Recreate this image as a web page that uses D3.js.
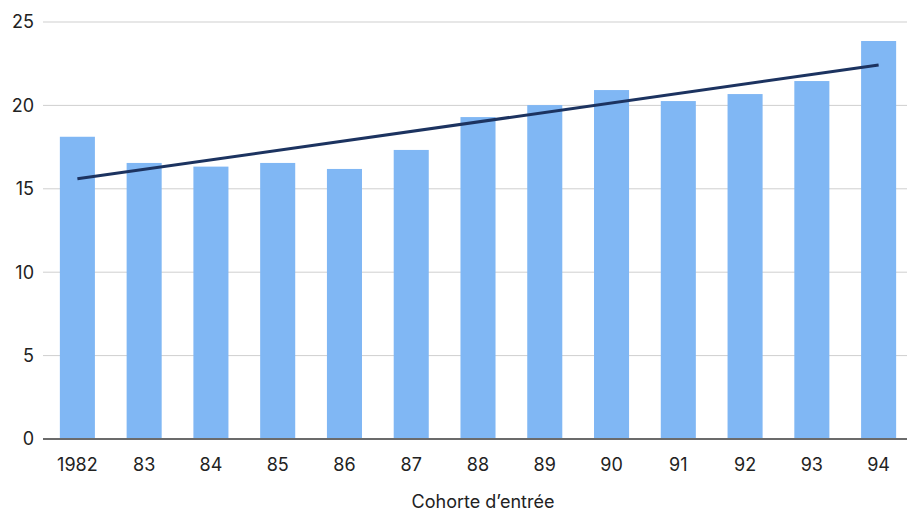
<!DOCTYPE html>
<html><head><meta charset="utf-8">
<script src="https://cdn.jsdelivr.net/npm/d3@7"></script>
<style>body{margin:0;background:#fff}svg{display:block}text{font-family:Inter,"Liberation Sans",Arial,sans-serif;fill:#222}</style>
</head><body><svg id="c" width="907" height="511"></svg>
<script>
const categories = ["1982","83","84","85","86","87","88","89","90","91","92","93","94"];
const values = [18.12,16.55,16.33,16.55,16.19,17.33,19.3,20.02,20.92,20.26,20.68,21.46,23.86];
const trend = [15.6,22.42];
const yTicks = [0,5,10,15,20,25];
const xTitle = "Cohorte d’entrée";

const svg = d3.select("#c");
const x = d3.scaleBand().domain(categories).range([44,912]).paddingInner(0.475).paddingOuter(0.2375);
const y = d3.scaleLinear().domain([0,25]).range([439,22]);

svg.append("g").selectAll("line").data(yTicks.filter(d=>d>0)).join("line")
  .attr("x1",43).attr("x2",907).attr("y1",d=>y(d)).attr("y2",d=>y(d))
  .attr("stroke","#cfcfcf").attr("stroke-width",1);

svg.append("g").selectAll("rect").data(values).join("rect")
  .attr("x",(d,i)=>x(categories[i])).attr("width",x.bandwidth())
  .attr("y",d=>y(d)).attr("height",d=>y(0)-y(d)).attr("fill","#80b7f4");

svg.append("line").attr("x1",43).attr("x2",907).attr("y1",y(0)).attr("y2",y(0))
  .attr("stroke","#6b6b6b").attr("stroke-width",2);

const cx = c => x(c)+x.bandwidth()/2;
svg.append("line")
  .attr("x1",cx(categories[0])).attr("y1",y(trend[0]))
  .attr("x2",cx(categories[categories.length-1])).attr("y2",y(trend[1]))
  .attr("stroke","#1c3360").attr("stroke-width",3).attr("stroke-linecap","butt");

svg.append("g").selectAll("text").data(yTicks).join("text")
  .attr("x",34).attr("y",d=>y(d)).attr("dy","0.36em").attr("text-anchor","end")
  .attr("font-size",18).text(d=>d);

svg.append("g").selectAll("text").data(categories).join("text")
  .attr("x",d=>cx(d)).attr("y",465).attr("dy","0.36em").attr("text-anchor","middle")
  .attr("font-size",18).text(d=>d);

svg.append("text").attr("x",483).attr("y",502).attr("dy","0.36em").attr("text-anchor","middle")
  .attr("font-size",18).text(xTitle);
</script></body></html>
